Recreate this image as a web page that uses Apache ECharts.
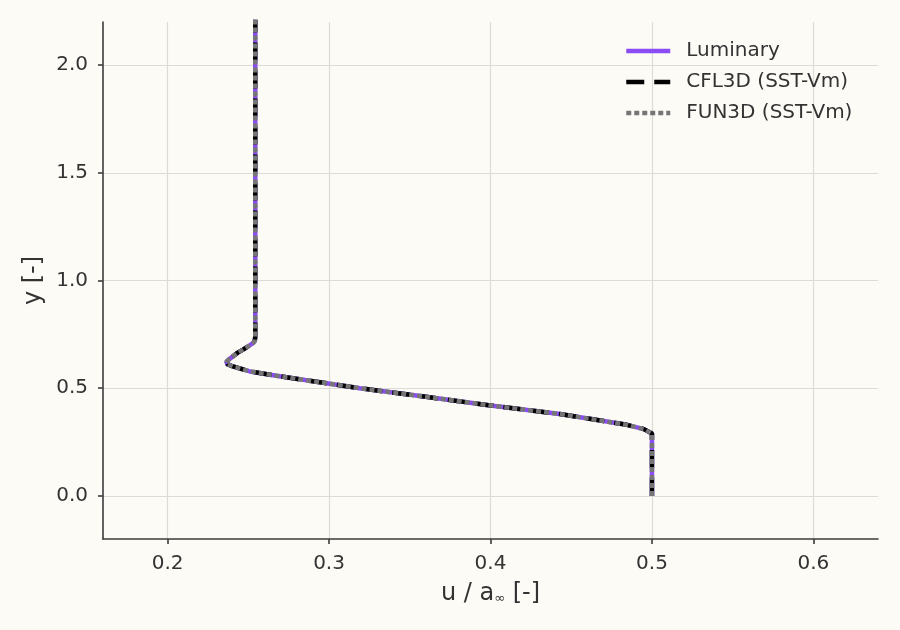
<!DOCTYPE html>
<html>
<head>
<meta charset="utf-8">
<script src="https://cdn.jsdelivr.net/npm/echarts@6/dist/echarts.min.js"></script>
<style>
  html, body { margin: 0; padding: 0; background: #fcfbf5; }
  #chart { width: 900px; height: 630px; }
</style>
</head>
<body>
<div id="chart"></div>
<script>
// velocity profile: y [-] against u / a_inf [-]
const yValues = [
  0.0, 0.1, 0.2, 0.26, 0.29, 0.298, 0.31, 0.33, 0.3475, 0.38, 0.42, 0.46, 0.50,
  0.521, 0.54, 0.558, 0.578, 0.601, 0.612, 0.622, 0.634, 0.648, 0.665, 0.679,
  0.697, 0.710, 0.720, 0.74, 1.0, 1.5, 2.0, 2.25
];
const luminaryU = [
  0.500, 0.500, 0.500, 0.500, 0.500, 0.499, 0.495, 0.4845, 0.470, 0.443, 0.400, 0.360, 0.319,
  0.3005, 0.283, 0.2674, 0.2509, 0.2405, 0.2370, 0.2364, 0.2380, 0.2405, 0.2435, 0.2467,
  0.2505, 0.2530, 0.2540, 0.2543, 0.2543, 0.2543, 0.2543, 0.2543
];
const cfl3dU = luminaryU.slice();
const fun3dU = luminaryU.slice();

const xTicks = [0.2, 0.3, 0.4, 0.5, 0.6];
const yTicks = [0.0, 0.5, 1.0, 1.5, 2.0];

const textColor = '#333333';
const axisColor = '#3c3c3c';
const gridColor = '#dcdcd6';

function pairs(us) {
  return us.map((u, i) => [u, yValues[i]]);
}

const chart = echarts.init(document.getElementById('chart'));
chart.setOption({
  backgroundColor: '#fcfbf5',
  animation: false,
  textStyle: { fontFamily: 'DejaVu Sans' },
  grid: { left: 103, right: 22, top: 22, bottom: 91, containLabel: false },
  legend: {
    orient: 'vertical',
    left: 619,
    top: 36,
    itemWidth: 44,
    itemHeight: 14,
    itemGap: 11,
    itemStyle: { opacity: 0 },
    lineStyle: { width: 4.5 },
    textStyle: { fontSize: 20, color: textColor, padding: [0, 0, 0, 11] },
    data: ['Luminary', 'CFL3D (SST-Vm)', 'FUN3D (SST-Vm)']
  },
  xAxis: {
    type: 'value',
    min: 0.16,
    max: 0.64,
    name: '{n|u / a}{s|∞}{n| [-]}',
    nameLocation: 'middle',
    nameGap: 43,
    nameTextStyle: {
      rich: {
        n: { fontSize: 24, color: textColor, fontFamily: 'DejaVu Sans' },
        s: { fontSize: 13, color: textColor, fontFamily: 'DejaVu Sans', padding: [10, 0, 0, 0] }
      }
    },
    axisLine: { show: true, onZero: false, lineStyle: { color: axisColor, width: 1.6 } },
    axisTick: { show: true, length: 5, customValues: xTicks, lineStyle: { color: axisColor, width: 1.6 } },
    axisLabel: { customValues: xTicks, fontSize: 20, color: textColor, margin: 15, formatter: v => v.toFixed(1) },
    splitLine: { show: true, lineStyle: { color: gridColor, width: 1.2 } }
  },
  yAxis: {
    type: 'value',
    min: -0.2,
    max: 2.2,
    name: 'y [-]',
    nameLocation: 'middle',
    nameGap: 53,
    nameTextStyle: { fontSize: 24, color: textColor },
    axisLine: { show: true, onZero: false, lineStyle: { color: axisColor, width: 1.6 } },
    axisTick: { show: true, length: 5, customValues: yTicks, lineStyle: { color: axisColor, width: 1.6 } },
    axisLabel: { customValues: yTicks, fontSize: 20, color: textColor, margin: 15, formatter: v => v.toFixed(1) },
    splitLine: { show: true, lineStyle: { color: gridColor, width: 1.2 } }
  },
  series: [
    {
      name: 'Luminary',
      type: 'line',
      data: pairs(luminaryU),
      symbol: 'none',
      clip: true,
      itemStyle: { color: '#8b4cf6' },
      lineStyle: { color: '#8b4cf6', width: 4.5 }
    },
    {
      name: 'CFL3D (SST-Vm)',
      type: 'line',
      data: pairs(cfl3dU),
      symbol: 'none',
      clip: true,
      itemStyle: { color: '#000000' },
      lineStyle: { color: '#000000', width: 4.5, type: [18, 10] }
    },
    {
      name: 'FUN3D (SST-Vm)',
      type: 'line',
      data: pairs(fun3dU),
      symbol: 'none',
      clip: true,
      itemStyle: { color: '#767676' },
      lineStyle: { color: '#767676', width: 4.5, type: [5, 3] }
    }
  ]
});
</script>
</body>
</html>
